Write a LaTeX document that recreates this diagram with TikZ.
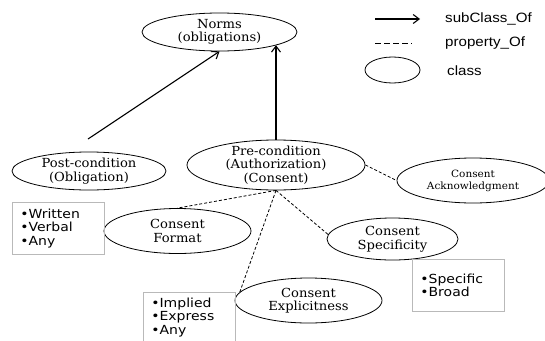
\documentclass[tikz,border=0pt]{standalone}
\usepackage{fontspec}
\usepackage{tikz}
\usetikzlibrary{shapes.geometric,arrows.meta}
\newfontfamily\classfont[FakeStretch=1.05]{DejaVu Serif}
\newfontfamily\valuefont[FakeStretch=1.12]{DejaVu Sans}
\newfontfamily\legendfont[FakeStretch=1.12]{Liberation Sans}

\begin{document}
\begin{tikzpicture}[
	x=1pt, y=-1pt,
	class/.style = {ellipse, draw, line width=0.8pt,
		inner xsep=0pt, inner ysep=-5pt, align=center,
		font=\classfont\fontsize{12.5}{13.5}\selectfont},
	valuebox/.style = {rectangle, draw=gray!55, line width=0.7pt,
		anchor=north west, minimum width=92pt, minimum height=52pt,
		text width=76pt, inner xsep=8pt, align=left,
		font=\valuefont\fontsize{12.5}{13.5}\selectfont},
	legendtext/.style = {anchor=west, inner sep=0pt,
		font=\legendfont\fontsize{13.5}{15}\selectfont},
	subclass/.style = {-{Straight Barb[length=6pt,width=9pt]}, line width=1.1pt},
	propertyof/.style = {line width=0.8pt, dash pattern=on 3pt off 2pt}]
	\useasboundingbox (0,0) rectangle (545,340);
	\clip (0,0) rectangle (545,340);

	% classes
	\node[class, minimum width=155pt, minimum height=38pt] (norms) at (219.5,32) {Norms\\(obligations)};
	\node[class, minimum width=154pt, minimum height=38pt] (post) at (89,171) {Post-condition\\(Obligation)};
	\node[class, minimum width=178pt, minimum height=50pt] (pre) at (276,165) {Pre-condition\\(Authorization)\\(Consent)};
	\node[class, minimum width=152pt, minimum height=45pt,
		font=\classfont\fontsize{10}{12}\selectfont] (ack) at (473,180.5) {Consent\\Acknowledgment};
	\node[class, minimum width=147pt, minimum height=45pt] (format) at (177.5,231) {Consent\\Format};
	\node[class, minimum width=131pt, minimum height=42pt] (spec) at (392.5,239) {Consent\\Specificity};
	\node[class, minimum width=147pt, minimum height=45pt] (expl) at (308.5,300.5) {Consent\\Explicitness};

	% values
	\node[valuebox] (formatvalues) at (12,202) {•Written\\•Verbal\\•Any};
	\node[valuebox] (specvalues) at (412,259) {•Specific\\•Broad};
	\node[valuebox, minimum height=50pt] (explvalues) at (143,292) {•Implied\\•Express\\•Any};

	% subClass_Of
	\coordinate (posttail) at (88,139);
	\draw[subclass] (posttail) -- (norms.south);
	\draw[subclass] (pre.north) -- (pre.north |- norms.-13);

	% property_Of
	\draw[propertyof] (pre.south) -- (format.north);
	\draw[propertyof] (pre.south) -- (expl.173);
	\draw[propertyof] (pre.south) -- (spec.176);
	\draw[propertyof] (pre.east) -- (ack.west);

	% legend
	\coordinate (subfrom) at (375,19);
	\coordinate (subto) at (420,19);
	\coordinate (propfrom) at (375,43);
	\coordinate (propto) at (412,43);
	\draw[subclass] (subfrom) -- (subto);
	\draw[propertyof, dash pattern=on 6pt off 3pt] (propfrom) -- (propto);
	\node[class, minimum width=55pt, minimum height=26pt] (classkey) at (392.5,70) {};
	\node[legendtext] (sublabel) at (445,19) {subClass\_Of};
	\node[legendtext] (proplabel) at (445,43) {property\_Of};
	\node[legendtext] (classlabel) at (447,71) {class};
\end{tikzpicture}
\end{document}
